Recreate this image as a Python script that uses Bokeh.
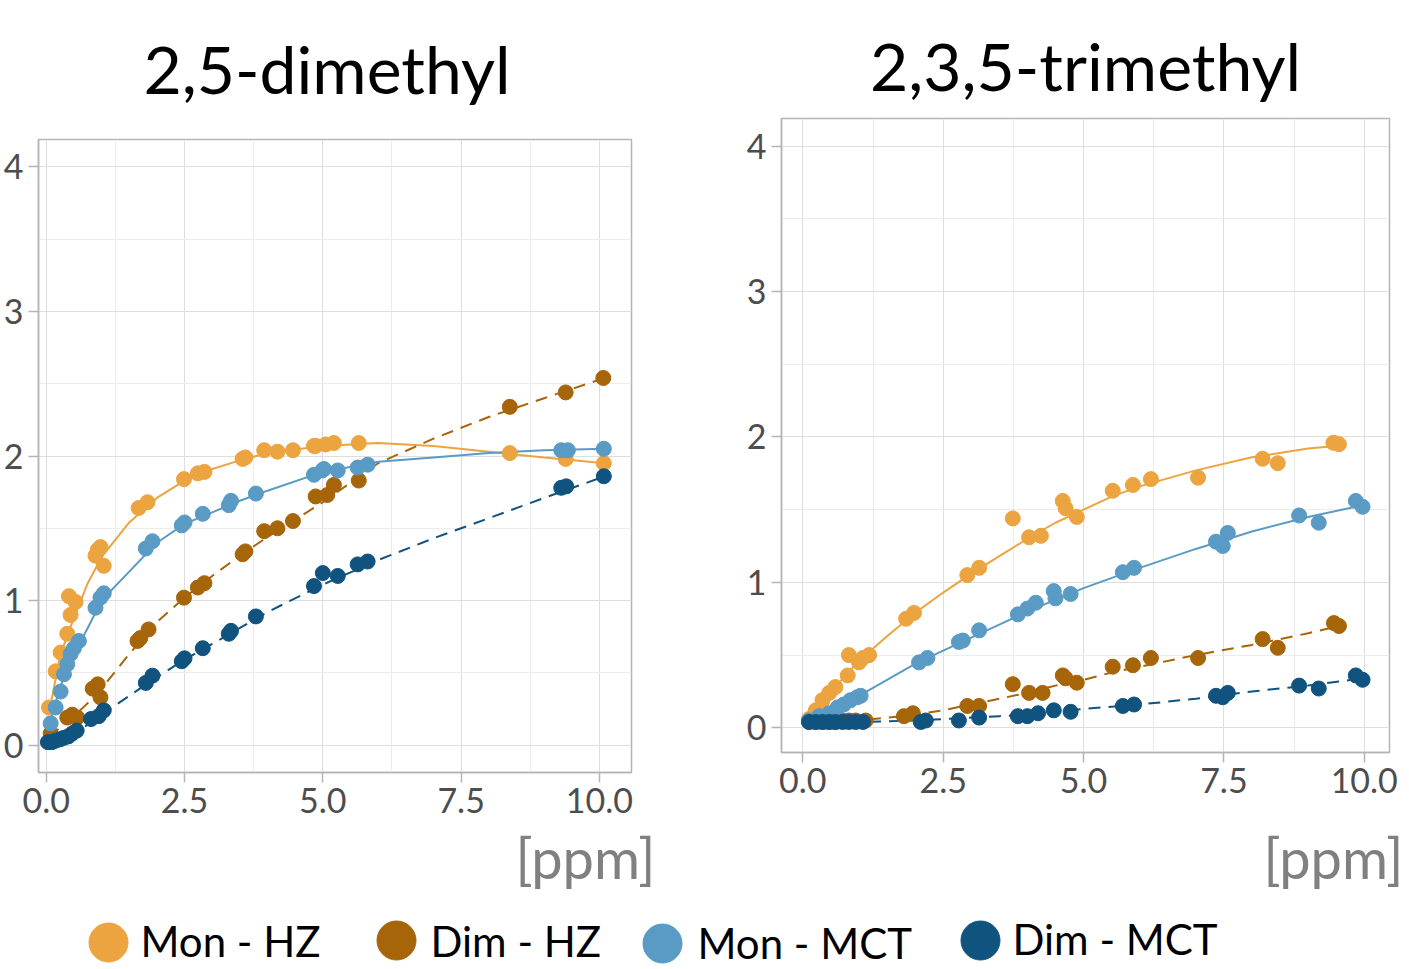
from bokeh.plotting import figure
from bokeh.models import FixedTicker, NumeralTickFormatter, Title, Range1d
from bokeh.core.properties import value
from bokeh.layouts import column, row
from bokeh.embed import file_html
from bokeh.resources import INLINE

# ---------------- data ----------------
series_names = ["Mon - HZ", "Dim - HZ", "Mon - MCT", "Dim - MCT"]
series_colors = ["#eba43f", "#a7650a", "#5a9bc6", "#11537f"]
series_dash = ["solid", "12 8", "solid", "12 8"]

x_ticks = [0.0, 2.5, 5.0, 7.5, 10.0]
x_minor = [1.25, 3.75, 6.25, 8.75]
y_ticks = [0, 1, 2, 3, 4]
y_minor = [0.5, 1.5, 2.5, 3.5]

panel_titles = ["2,5-dimethyl", "2,3,5-trimethyl"]
unit_label = "[ppm]"

# 2,5-dimethyl (left panel) points
mon_hz_x_L = [0.05, 0.17, 0.26, 0.38, 0.41, 0.44, 0.53, 0.89, 0.93, 0.98, 1.04, 1.67, 1.83, 2.49, 2.74, 2.86, 3.55, 3.6,
              3.94, 4.18, 4.46, 4.84, 4.87, 5.05, 5.2, 5.65, 8.38, 9.39, 10.08]
mon_hz_y_L = [0.26, 0.51, 0.64, 0.77, 1.03, 0.9, 0.99, 1.31, 1.35, 1.37, 1.24, 1.64, 1.68, 1.84, 1.88, 1.89, 1.98, 1.99,
              2.04, 2.03, 2.04, 2.07, 2.07, 2.08, 2.09, 2.09, 2.02, 1.98, 1.95]
dim_hz_x_L = [0.08, 0.38, 0.47, 0.56, 0.84, 0.93, 0.98, 1.65, 1.7, 1.85, 2.49, 2.74, 2.86, 3.55, 3.6, 3.94, 4.18, 4.46,
              4.87, 5.08, 5.2, 5.65, 8.38, 9.39, 10.07]
dim_hz_y_L = [0.08, 0.19, 0.21, 0.19, 0.39, 0.42, 0.33, 0.72, 0.74, 0.8, 1.02, 1.09, 1.12, 1.32, 1.34, 1.48, 1.5, 1.55,
              1.72, 1.73, 1.8, 1.83, 2.34, 2.44, 2.54]
mon_mct_x_L = [0.08, 0.17, 0.26, 0.32, 0.38, 0.44, 0.5, 0.59, 0.89, 0.98, 1.04, 1.8, 1.92, 2.45, 2.5, 2.83, 3.3, 3.34,
               3.79, 4.84, 4.99, 5.02, 5.27, 5.63, 5.81, 9.31, 9.43, 10.08]
mon_mct_y_L = [0.15, 0.26, 0.37, 0.49, 0.56, 0.63, 0.67, 0.72, 0.95, 1.02, 1.05, 1.36, 1.41, 1.52, 1.54, 1.6, 1.66, 1.69,
               1.74, 1.87, 1.9, 1.91, 1.9, 1.92, 1.94, 2.04, 2.04, 2.05]
dim_mct_x_L = [0.03, 0.1, 0.17, 0.25, 0.32, 0.4, 0.47, 0.55, 0.81, 0.95, 1.04, 1.8, 1.92, 2.45, 2.5, 2.83, 3.3, 3.34,
               3.79, 4.84, 5.0, 5.27, 5.63, 5.81, 9.31, 9.4, 10.08]
dim_mct_y_L = [0.02, 0.02, 0.03, 0.04, 0.05, 0.06, 0.08, 0.1, 0.18, 0.2, 0.24, 0.43, 0.48, 0.58, 0.6, 0.67, 0.77, 0.79,
               0.89, 1.1, 1.19, 1.17, 1.25, 1.27, 1.78, 1.79, 1.86]

# 2,5-dimethyl fitted curves
fit_x_L = [0.05, 0.25, 0.5, 0.75, 1.0, 1.5, 2.0, 2.5, 3.0, 3.5, 4.0, 5.0, 6.0, 7.0, 8.0, 9.0, 10.1]
mon_hz_fit_L = [0.22, 0.62, 0.88, 1.12, 1.3, 1.54, 1.71, 1.83, 1.91, 1.97, 2.02, 2.07, 2.09, 2.07, 2.03, 1.99, 1.95]
dim_hz_fit_L = [0.06, 0.12, 0.2, 0.29, 0.39, 0.63, 0.85, 1.02, 1.17, 1.31, 1.44, 1.68, 1.95, 2.12, 2.27, 2.4, 2.54]
mon_mct_fit_L = [0.13, 0.4, 0.63, 0.81, 1.0, 1.2, 1.4, 1.53, 1.61, 1.69, 1.76, 1.89, 1.96, 1.99, 2.02, 2.04, 2.05]
dim_mct_fit_L = [0.01, 0.04, 0.08, 0.14, 0.21, 0.34, 0.47, 0.59, 0.7, 0.81, 0.92, 1.11, 1.28, 1.43, 1.57, 1.71, 1.86]

# 2,3,5-trimethyl (right panel) points
mon_hz_x_R = [0.11, 0.23, 0.35, 0.47, 0.58, 0.8, 0.82, 1.0, 1.07, 1.18, 1.84, 1.98, 2.93, 3.14, 3.74, 4.03, 4.24, 4.63,
              4.68, 4.88, 5.52, 5.88, 6.2, 7.04, 8.19, 8.46, 9.45, 9.55]
mon_hz_y_R = [0.06, 0.12, 0.19, 0.24, 0.28, 0.36, 0.5, 0.45, 0.48, 0.5, 0.75, 0.79, 1.05, 1.1, 1.44, 1.31, 1.32, 1.56,
              1.51, 1.45, 1.63, 1.67, 1.71, 1.72, 1.85, 1.82, 1.96, 1.95]
dim_hz_x_R = [0.11, 0.23, 0.35, 0.47, 0.58, 0.71, 0.82, 0.94, 1.12, 1.8, 1.96, 2.93, 3.14, 3.74, 4.03, 4.27, 4.63, 4.68,
              4.88, 5.52, 5.88, 6.2, 7.04, 8.19, 8.46, 9.46, 9.55]
dim_hz_y_R = [0.04, 0.04, 0.04, 0.04, 0.04, 0.05, 0.05, 0.05, 0.05, 0.08, 0.1, 0.15, 0.15, 0.3, 0.24, 0.24, 0.36, 0.34,
              0.31, 0.42, 0.43, 0.48, 0.48, 0.61, 0.55, 0.72, 0.7]
mon_mct_x_R = [0.11, 0.29, 0.47, 0.62, 0.73, 0.85, 0.97, 1.03, 2.07, 2.22, 2.78, 2.85, 3.14, 3.83, 4.0, 4.15, 4.47, 4.5,
               4.77, 5.7, 5.9, 7.36, 7.48, 7.57, 8.84, 9.19, 9.85, 9.97]
mon_mct_y_R = [0.05, 0.08, 0.1, 0.14, 0.16, 0.19, 0.21, 0.22, 0.45, 0.48, 0.59, 0.6, 0.67, 0.78, 0.82, 0.86, 0.94, 0.89,
               0.92, 1.07, 1.1, 1.28, 1.25, 1.34, 1.46, 1.41, 1.56, 1.52]
dim_mct_x_R = [0.11, 0.23, 0.35, 0.47, 0.58, 0.71, 0.82, 0.94, 1.07, 2.1, 2.19, 2.78, 3.14, 3.83, 4.0, 4.19, 4.47, 4.77,
               5.7, 5.9, 7.36, 7.48, 7.57, 8.84, 9.19, 9.85, 9.97]
dim_mct_y_R = [0.04, 0.04, 0.04, 0.04, 0.04, 0.04, 0.04, 0.04, 0.04, 0.04, 0.05, 0.05, 0.07, 0.08, 0.08, 0.1, 0.12, 0.11,
               0.15, 0.16, 0.22, 0.21, 0.24, 0.29, 0.27, 0.36, 0.33]

# 2,3,5-trimethyl fitted curves
fit_x_R_hz = [0.11, 0.5, 1.0, 1.5, 2.0, 2.5, 3.0, 3.5, 4.0, 4.5, 5.0, 5.5, 6.0, 7.0, 8.0, 9.0, 9.55]
mon_hz_fit_R = [0.05, 0.25, 0.46, 0.63, 0.79, 0.93, 1.06, 1.18, 1.3, 1.41, 1.5, 1.59, 1.66, 1.77, 1.86, 1.92, 1.94]
dim_hz_fit_R = [0.04, 0.04, 0.05, 0.07, 0.09, 0.12, 0.16, 0.2, 0.24, 0.29, 0.33, 0.38, 0.42, 0.5, 0.57, 0.65, 0.7]
fit_x_R_mct = [0.11, 0.5, 1.0, 1.5, 2.0, 2.5, 3.0, 3.5, 4.0, 4.5, 5.0, 6.0, 7.0, 8.0, 9.0, 9.97]
mon_mct_fit_R = [0.05, 0.11, 0.22, 0.33, 0.44, 0.53, 0.62, 0.71, 0.8, 0.88, 0.96, 1.1, 1.23, 1.35, 1.45, 1.53]
dim_mct_fit_R = [0.04, 0.04, 0.04, 0.045, 0.05, 0.06, 0.07, 0.08, 0.09, 0.11, 0.13, 0.16, 0.2, 0.25, 0.29, 0.34]

# ---------------- styling ----------------
FONT = "Lato"
GRID_MAJOR = "#dedede"
GRID_MINOR = "#ececec"
FRAME = "#b5b5b5"
TICK_TEXT = "#4d4d4d"
TOP_B = 150      # shared top border (rows align plot borders)
BOT_B = 170      # shared bottom border


def make_panel(title, points, fits, x_rng, y_rng, frame_w, frame_h, right_b, left_b, margin_top,
               title_align, title_offset, title_standoff, unit_standoff, unit_offset):
    p = figure(title=title, frame_width=frame_w, frame_height=frame_h,
               min_border_top=TOP_B, min_border_right=right_b, min_border_bottom=BOT_B, min_border_left=left_b,
               x_range=Range1d(*x_rng), y_range=Range1d(*y_rng), margin=(margin_top, 0, 0, 0),
               output_backend="svg", toolbar_location=None, tools="")
    p.title.align = title_align
    p.title.offset = title_offset
    p.title.text_font = FONT
    p.title.text_font_size = "66px"
    p.title.text_font_style = "normal"
    p.title.text_color = "black"
    p.title.standoff = title_standoff

    p.xaxis.ticker = FixedTicker(ticks=x_ticks, minor_ticks=x_minor)
    p.yaxis.ticker = FixedTicker(ticks=y_ticks, minor_ticks=y_minor)
    p.xaxis.formatter = NumeralTickFormatter(format="0.0")
    for ax in (p.xaxis, p.yaxis):
        ax.axis_line_color = FRAME
        ax.axis_line_width = 1.5
        ax.major_tick_line_color = FRAME
        ax.major_tick_line_width = 1.5
        ax.major_tick_out = 10
        ax.major_tick_in = 0
        ax.minor_tick_line_color = None
        ax.major_label_text_font = FONT
        ax.major_label_text_font_size = "34px"
        ax.major_label_text_color = TICK_TEXT
        ax.major_label_standoff = 5
    p.xgrid.grid_line_color = GRID_MAJOR
    p.ygrid.grid_line_color = GRID_MAJOR
    p.xgrid.minor_grid_line_color = GRID_MINOR
    p.ygrid.minor_grid_line_color = GRID_MINOR
    p.outline_line_color = FRAME
    p.outline_line_width = 1.5
    p.background_fill_color = "white"
    p.border_fill_color = "white"

    for (fx, fy), color, dash in zip(fits, series_colors, series_dash):
        p.line(fx, fy, line_color=color, line_width=2, line_dash=dash)
    for (px, py), color in zip(points, series_colors):
        p.scatter(px, py, size=15, fill_color=color, line_color=color)

    p.add_layout(Title(text=unit_label, align="right", offset=unit_offset, text_font=FONT, text_font_size="56px",
                       text_font_style="normal", text_color="#808080", standoff=unit_standoff), "below")
    return p


left = make_panel(
    panel_titles[0],
    [(mon_hz_x_L, mon_hz_y_L), (dim_hz_x_L, dim_hz_y_L), (mon_mct_x_L, mon_mct_y_L), (dim_mct_x_L, dim_mct_y_L)],
    [(fit_x_L, mon_hz_fit_L), (fit_x_L, dim_hz_fit_L), (fit_x_L, mon_mct_fit_L), (fit_x_L, dim_mct_fit_L)],
    (-0.14, 10.58), (-0.19, 4.19), 593, 633, 90, 38, -11, "left", 105, 64, 13, -24)

right = make_panel(
    panel_titles[1],
    [(mon_hz_x_R, mon_hz_y_R), (dim_hz_x_R, dim_hz_y_R), (mon_mct_x_R, mon_mct_y_R), (dim_mct_x_R, dim_mct_y_R)],
    [(fit_x_R_hz, mon_hz_fit_R), (fit_x_R_hz, dim_hz_fit_R), (fit_x_R_mct, mon_mct_fit_R),
     (fit_x_R_mct, dim_mct_fit_R)],
    (-0.38, 10.45), (-0.17, 4.19), 608, 634, 16, 60, -32, "center", 0, 28, 53, -14)

# ---------------- legend strip (layout positions in screen pixels) ----------------
LEG_W, LEG_H = 1405, 70
legend_marker_x = [108, 396, 662, 980]
legend_marker_y = [26, 28, 25, 28]
legend_text_x = [140, 430, 697, 1012]
legend_text_y = [28, 28, 26, 30]

lg = figure(width=LEG_W, height=LEG_H, x_range=Range1d(0, LEG_W), y_range=Range1d(0, LEG_H), min_border=0,
            x_axis_location=None, y_axis_location=None, margin=(-44, 0, 0, 0),
            output_backend="svg", toolbar_location=None, tools="")
lg.grid.visible = False
lg.outline_line_color = None
lg.border_fill_alpha = 0
lg.background_fill_alpha = 0
lg.scatter(legend_marker_x, legend_marker_y, size=39, fill_color=series_colors, line_color=series_colors)
lg.text(legend_text_x, legend_text_y, text=series_names, text_font=value(FONT), text_font_size="42px",
        text_color="black", text_baseline="middle", text_align="left")

layout = column(row(left, right), lg)
open("out.html", "w").write(file_html(layout, INLINE))
